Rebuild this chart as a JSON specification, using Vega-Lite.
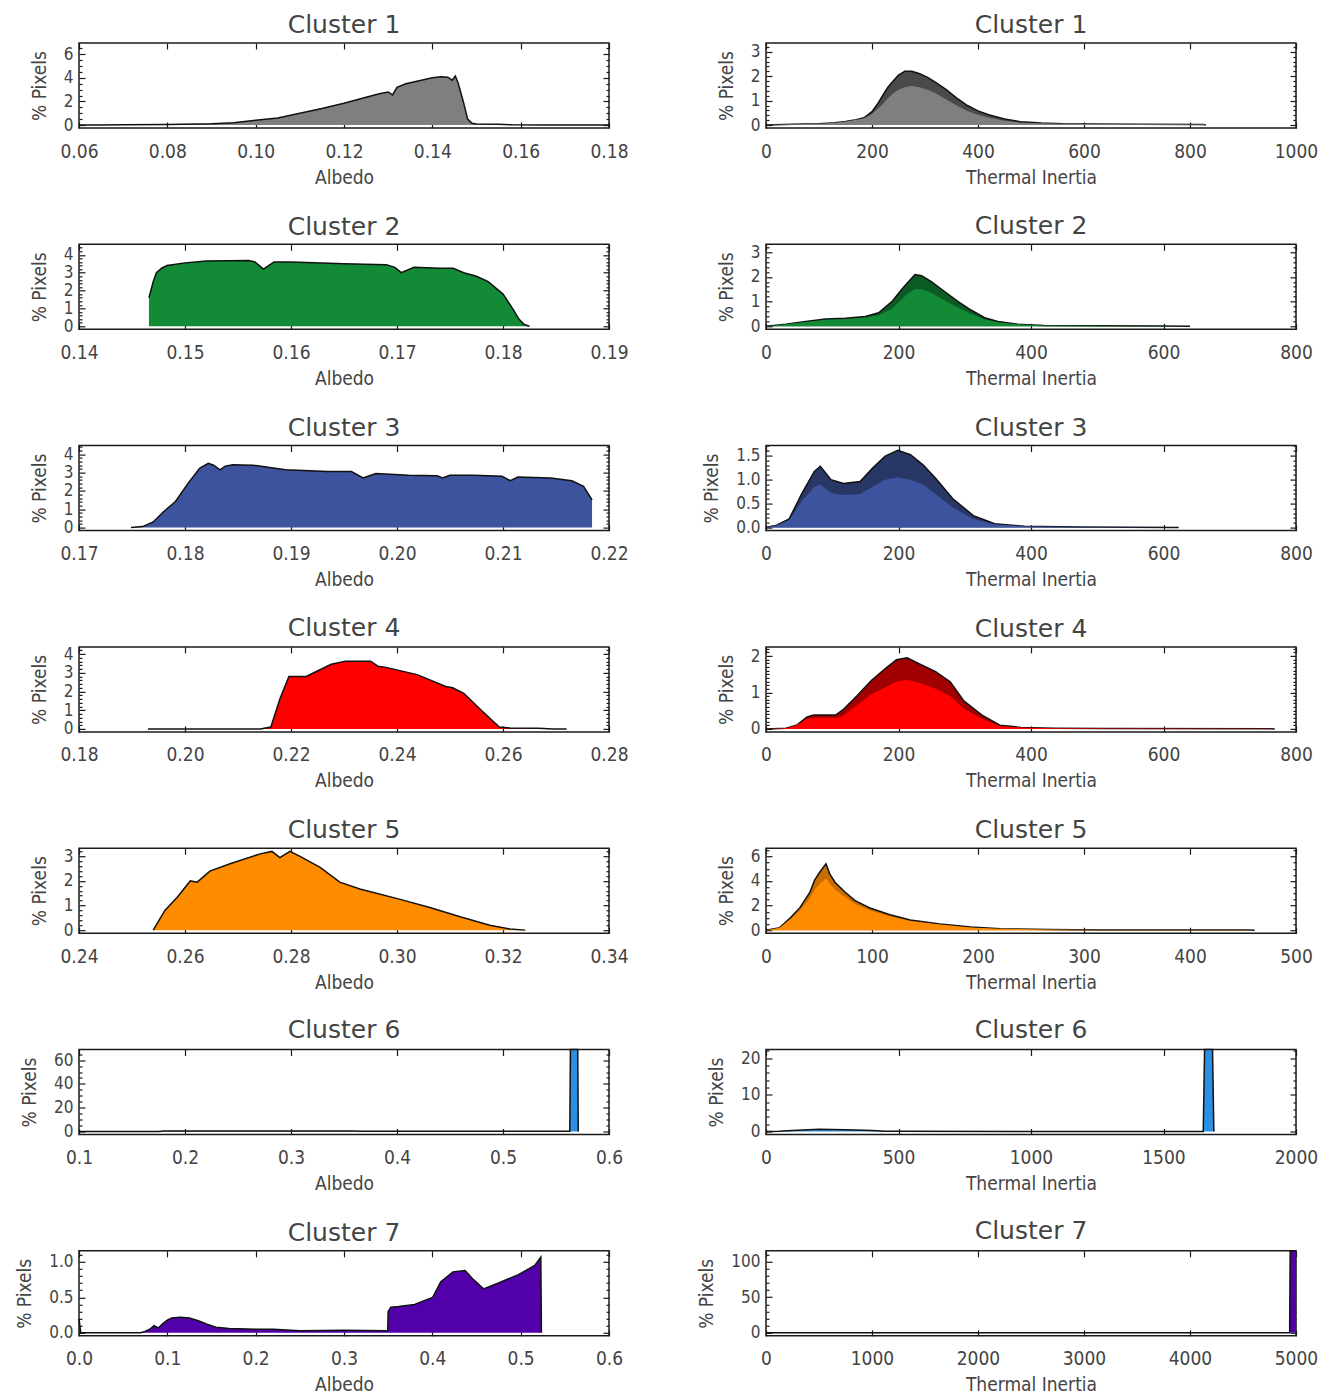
{
"$schema": "https://vega.github.io/schema/vega-lite/v6.json",
"background": "white",
"padding": {"left": 14, "top": 12, "right": 0, "bottom": 0},
"bounds": "flush",
"spacing": 201.3,
"config": {
  "view": {"stroke": "#1a1a1a", "strokeWidth": 1.5},
  "area": {"opacity": 1},
  "axis": {"domain": false, "grid": false, "tickSize": -6, "tickColor": "#1a1a1a", "tickWidth": 1.2, "labelFont": "DejaVu Sans Condensed", "labelFontSize": 19, "labelColor": "#444", "titleFont": "DejaVu Sans Condensed", "titleFontSize": 19, "titleColor": "#444", "titleFontWeight": "normal", "labelFlush": false, "labelOverlap": false},
  "axisX": {"labelPadding": 20, "titlePadding": 7},
  "axisY": {"labelPadding": 12, "titlePadding": 14, "labelFontSize": 17},
  "title": {"font": "DejaVu Sans", "fontSize": 25, "fontWeight": "normal", "color": "#444", "offset": 4}
},
"datasets": {
  "L1": [{"x":0.060,"y":0},{"x":0.065,"y":0},{"x":0.070,"y":0.02},{"x":0.080,"y":0.05},{"x":0.090,"y":0.1},{"x":0.095,"y":0.2},{"x":0.100,"y":0.4},{"x":0.105,"y":0.6},{"x":0.110,"y":1.0},{"x":0.115,"y":1.4},{"x":0.120,"y":1.85},{"x":0.125,"y":2.35},{"x":0.128,"y":2.65},{"x":0.130,"y":2.8},{"x":0.131,"y":2.55},{"x":0.132,"y":3.2},{"x":0.134,"y":3.5},{"x":0.137,"y":3.75},{"x":0.140,"y":4.0},{"x":0.142,"y":4.1},{"x":0.1435,"y":4.05},{"x":0.1445,"y":3.8},{"x":0.1452,"y":4.15},{"x":0.1458,"y":3.6},{"x":0.147,"y":2.0},{"x":0.148,"y":0.5},{"x":0.149,"y":0.15},{"x":0.150,"y":0.08},{"x":0.155,"y":0.06},{"x":0.158,"y":0.02},{"x":0.165,"y":0},{"x":0.180,"y":0}],
  "R1": [{"x":0,"u":0,"l":0},{"x":50,"u":0.03,"l":0.03},{"x":100,"u":0.05,"l":0.05},{"x":130,"u":0.1,"l":0.1},{"x":150,"u":0.15,"l":0.15},{"x":170,"u":0.22,"l":0.22},{"x":185,"u":0.3,"l":0.28},{"x":200,"u":0.55,"l":0.45},{"x":210,"u":0.85,"l":0.65},{"x":220,"u":1.2,"l":0.85},{"x":230,"u":1.55,"l":1.1},{"x":240,"u":1.8,"l":1.3},{"x":250,"u":2.05,"l":1.45},{"x":262,"u":2.2,"l":1.55},{"x":275,"u":2.2,"l":1.6},{"x":290,"u":2.1,"l":1.55},{"x":305,"u":1.95,"l":1.45},{"x":320,"u":1.75,"l":1.3},{"x":340,"u":1.45,"l":1.05},{"x":360,"u":1.1,"l":0.8},{"x":380,"u":0.8,"l":0.58},{"x":400,"u":0.58,"l":0.42},{"x":420,"u":0.42,"l":0.3},{"x":450,"u":0.25,"l":0.18},{"x":480,"u":0.14,"l":0.1},{"x":520,"u":0.08,"l":0.07},{"x":560,"u":0.05,"l":0.05},{"x":600,"u":0.04,"l":0.04},{"x":700,"u":0.03,"l":0.03},{"x":825,"u":0.02,"l":0.02},{"x":830,"u":0,"l":0}],
  "L2": [{"x":0.1466,"y":1.6},{"x":0.1470,"y":2.5},{"x":0.1473,"y":3.0},{"x":0.1478,"y":3.25},{"x":0.1483,"y":3.4},{"x":0.1500,"y":3.55},{"x":0.1520,"y":3.65},{"x":0.1560,"y":3.68},{"x":0.1566,"y":3.6},{"x":0.1574,"y":3.2},{"x":0.1584,"y":3.6},{"x":0.1600,"y":3.6},{"x":0.1650,"y":3.5},{"x":0.1690,"y":3.45},{"x":0.1698,"y":3.3},{"x":0.1704,"y":3.0},{"x":0.1716,"y":3.3},{"x":0.1740,"y":3.25},{"x":0.1753,"y":3.25},{"x":0.1763,"y":3.0},{"x":0.1775,"y":2.8},{"x":0.1786,"y":2.5},{"x":0.1800,"y":1.8},{"x":0.1810,"y":0.9},{"x":0.1815,"y":0.4},{"x":0.1820,"y":0.1},{"x":0.1825,"y":0}],
  "R2": [{"x":0,"u":0,"l":0},{"x":30,"u":0.08,"l":0.08},{"x":60,"u":0.2,"l":0.18},{"x":90,"u":0.3,"l":0.27},{"x":120,"u":0.33,"l":0.3},{"x":150,"u":0.4,"l":0.36},{"x":170,"u":0.55,"l":0.45},{"x":190,"u":1.0,"l":0.7},{"x":205,"u":1.5,"l":1.1},{"x":215,"u":1.8,"l":1.35},{"x":225,"u":2.1,"l":1.5},{"x":235,"u":2.05,"l":1.5},{"x":250,"u":1.8,"l":1.35},{"x":270,"u":1.4,"l":1.05},{"x":290,"u":1.0,"l":0.75},{"x":310,"u":0.65,"l":0.5},{"x":330,"u":0.35,"l":0.28},{"x":350,"u":0.2,"l":0.17},{"x":380,"u":0.08,"l":0.08},{"x":420,"u":0.03,"l":0.03},{"x":500,"u":0.02,"l":0.02},{"x":600,"u":0.01,"l":0.01},{"x":640,"u":0,"l":0}],
  "L3": [{"x":0.1749,"y":0},{"x":0.1760,"y":0.05},{"x":0.1770,"y":0.3},{"x":0.1780,"y":0.87},{"x":0.1791,"y":1.42},{"x":0.1803,"y":2.42},{"x":0.1814,"y":3.24},{"x":0.1822,"y":3.5},{"x":0.1827,"y":3.4},{"x":0.1833,"y":3.15},{"x":0.1838,"y":3.35},{"x":0.1845,"y":3.42},{"x":0.1864,"y":3.4},{"x":0.1895,"y":3.15},{"x":0.1934,"y":3.06},{"x":0.1957,"y":3.05},{"x":0.1968,"y":2.7},{"x":0.1980,"y":2.95},{"x":0.2011,"y":2.85},{"x":0.2038,"y":2.82},{"x":0.2043,"y":2.7},{"x":0.2050,"y":2.85},{"x":0.2072,"y":2.85},{"x":0.2099,"y":2.8},{"x":0.2107,"y":2.55},{"x":0.2114,"y":2.75},{"x":0.2145,"y":2.7},{"x":0.2165,"y":2.55},{"x":0.2176,"y":2.25},{"x":0.2184,"y":1.5}],
  "R3": [{"x":0,"u":0,"l":0},{"x":16,"u":0.05,"l":0.05},{"x":35,"u":0.18,"l":0.16},{"x":54,"u":0.71,"l":0.55},{"x":73,"u":1.17,"l":0.85},{"x":82,"u":1.28,"l":0.9},{"x":98,"u":1.0,"l":0.72},{"x":117,"u":0.92,"l":0.68},{"x":142,"u":0.96,"l":0.7},{"x":161,"u":1.24,"l":0.85},{"x":180,"u":1.49,"l":1.0},{"x":199,"u":1.61,"l":1.05},{"x":218,"u":1.52,"l":1.0},{"x":237,"u":1.31,"l":0.9},{"x":256,"u":1.03,"l":0.7},{"x":282,"u":0.6,"l":0.42},{"x":313,"u":0.25,"l":0.18},{"x":345,"u":0.08,"l":0.07},{"x":390,"u":0.03,"l":0.03},{"x":472,"u":0.01,"l":0.01},{"x":623,"u":0,"l":0}],
  "L4": [{"x":0.1930,"y":0},{"x":0.2142,"y":0},{"x":0.2162,"y":0.1},{"x":0.2179,"y":1.6},{"x":0.2196,"y":2.8},{"x":0.2229,"y":2.8},{"x":0.2243,"y":3.0},{"x":0.2276,"y":3.45},{"x":0.2303,"y":3.62},{"x":0.2350,"y":3.62},{"x":0.2364,"y":3.35},{"x":0.2377,"y":3.3},{"x":0.2438,"y":2.9},{"x":0.2492,"y":2.27},{"x":0.2505,"y":2.2},{"x":0.2526,"y":1.9},{"x":0.2559,"y":1.0},{"x":0.2593,"y":0.1},{"x":0.2613,"y":0.05},{"x":0.2667,"y":0.03},{"x":0.2694,"y":0},{"x":0.2720,"y":0}],
  "R4": [{"x":0,"u":0,"l":0},{"x":30,"u":0.02,"l":0.02},{"x":46,"u":0.1,"l":0.1},{"x":62,"u":0.33,"l":0.28},{"x":72,"u":0.38,"l":0.3},{"x":105,"u":0.38,"l":0.3},{"x":116,"u":0.52,"l":0.35},{"x":137,"u":0.9,"l":0.65},{"x":159,"u":1.33,"l":0.95},{"x":181,"u":1.67,"l":1.15},{"x":197,"u":1.9,"l":1.3},{"x":213,"u":1.95,"l":1.35},{"x":234,"u":1.76,"l":1.25},{"x":256,"u":1.57,"l":1.1},{"x":278,"u":1.29,"l":0.9},{"x":299,"u":0.76,"l":0.55},{"x":326,"u":0.38,"l":0.28},{"x":353,"u":0.1,"l":0.08},{"x":385,"u":0.04,"l":0.04},{"x":434,"u":0.02,"l":0.02},{"x":515,"u":0.01,"l":0.01},{"x":768,"u":0,"l":0}],
  "L5": [{"x":0.2540,"y":0},{"x":0.2562,"y":0.8},{"x":0.2585,"y":1.33},{"x":0.2610,"y":2.0},{"x":0.2623,"y":1.95},{"x":0.2647,"y":2.4},{"x":0.2685,"y":2.7},{"x":0.2742,"y":3.1},{"x":0.2764,"y":3.2},{"x":0.2779,"y":2.95},{"x":0.2798,"y":3.2},{"x":0.2817,"y":3.0},{"x":0.2855,"y":2.55},{"x":0.2892,"y":1.95},{"x":0.2930,"y":1.67},{"x":0.3006,"y":1.25},{"x":0.3062,"y":0.92},{"x":0.3119,"y":0.54},{"x":0.3175,"y":0.2},{"x":0.3213,"y":0.05},{"x":0.3242,"y":0}],
  "R5": [{"x":0,"u":0,"l":0},{"x":13,"u":0.2,"l":0.2},{"x":23,"u":1.0,"l":0.9},{"x":32,"u":1.83,"l":1.6},{"x":41.5,"u":3.1,"l":2.6},{"x":46,"u":4.1,"l":3.3},{"x":51,"u":4.75,"l":3.8},{"x":56.6,"u":5.4,"l":4.2},{"x":60,"u":4.6,"l":3.8},{"x":65,"u":3.9,"l":3.3},{"x":74.5,"u":3.1,"l":2.7},{"x":84,"u":2.4,"l":2.1},{"x":98,"u":1.8,"l":1.6},{"x":117,"u":1.25,"l":1.1},{"x":136,"u":0.83,"l":0.75},{"x":164,"u":0.5,"l":0.45},{"x":193,"u":0.25,"l":0.22},{"x":221,"u":0.12,"l":0.12},{"x":268,"u":0.05,"l":0.05},{"x":315,"u":0.02,"l":0.02},{"x":456,"u":0.01,"l":0.01},{"x":461,"u":0,"l":0}],
  "L6": [{"x":0.100,"y":0},{"x":0.175,"y":0},{"x":0.180,"y":0.5},{"x":0.360,"y":0.5},{"x":0.365,"y":0.2},{"x":0.5630,"y":0.2},{"x":0.5636,"y":68.9},{"x":0.5705,"y":68.9},{"x":0.5710,"y":0}],
  "R6": [{"x":0,"y":0},{"x":50,"y":0.1},{"x":100,"y":0.3},{"x":200,"y":0.6},{"x":300,"y":0.5},{"x":400,"y":0.3},{"x":450,"y":0.1},{"x":500,"y":0.05},{"x":1000,"y":0.02},{"x":1650,"y":0},{"x":1655,"y":22.4},{"x":1685,"y":22.4},{"x":1690,"y":0}],
  "L7": [{"x":0.000,"y":0.2},{"x":0.002,"y":0},{"x":0.070,"y":0},{"x":0.0746,"y":0.02},{"x":0.080,"y":0.05},{"x":0.085,"y":0.1},{"x":0.090,"y":0.07},{"x":0.095,"y":0.13},{"x":0.100,"y":0.18},{"x":0.105,"y":0.21},{"x":0.115,"y":0.22},{"x":0.125,"y":0.21},{"x":0.135,"y":0.17},{"x":0.145,"y":0.12},{"x":0.155,"y":0.08},{"x":0.170,"y":0.06},{"x":0.200,"y":0.05},{"x":0.220,"y":0.05},{"x":0.250,"y":0.03},{"x":0.300,"y":0.035},{"x":0.3495,"y":0.03},{"x":0.3500,"y":0.3},{"x":0.3530,"y":0.36},{"x":0.3620,"y":0.37},{"x":0.3800,"y":0.4},{"x":0.3900,"y":0.45},{"x":0.4004,"y":0.5},{"x":0.4096,"y":0.72},{"x":0.4234,"y":0.86},{"x":0.4370,"y":0.88},{"x":0.4466,"y":0.75},{"x":0.4580,"y":0.62},{"x":0.4743,"y":0.7},{"x":0.4974,"y":0.82},{"x":0.5160,"y":0.95},{"x":0.5228,"y":1.07},{"x":0.5235,"y":0}],
  "R7": [{"x":0,"y":0},{"x":4940,"y":0},{"x":4945,"y":115.3},{"x":5000,"y":115.3}]
},
"vconcat": [
 {"hconcat": [
  {"title": "Cluster 1", "width": 530, "height": 85, "data": {"name": "L1"},
   "layer": [
    {"mark": {"type": "area", "color": "#7f7f7f", "opacity": 1, "line": {"color": "#111", "strokeWidth": 1.5}},
     "encoding": {"x": {"field": "x", "type": "quantitative", "scale": {"domain": [0.06, 0.18], "nice": false, "zero": false}, "axis": {"title": "Albedo", "values": [0.06,0.08,0.10,0.12,0.14,0.16,0.18], "format": ".2f"}},
                  "y": {"field": "y", "type": "quantitative", "stack": null, "scale": {"domain": [-0.25, 6.95], "nice": false, "zero": false}, "axis": {"title": "% Pixels", "values": [0,2,4,6]}}}},
    {"mark": {"type": "line", "opacity": 0},
     "encoding": {"x": {"field": "x", "type": "quantitative", "axis": {"orient": "top", "labels": false, "title": null, "values": [0.06,0.08,0.10,0.12,0.14,0.16,0.18]}},
                  "y": {"field": "y", "type": "quantitative", "axis": {"orient": "right", "labels": false, "title": null, "values": [0,2,4,6]}}}},
    {"mark": {"type": "line", "opacity": 0},
     "encoding": {"x": {"field": "x", "type": "quantitative", "axis": null},
                  "y": {"field": "y", "type": "quantitative", "axis": {"orient": "left", "labels": false, "title": null, "tickSize": -3, "values": [0.5,1,1.5,2.5,3,3.5,4.5,5,5.5,6.5]}}}},
    {"mark": {"type": "line", "opacity": 0},
     "encoding": {"x": {"field": "x", "type": "quantitative", "axis": null},
                  "y": {"field": "y", "type": "quantitative", "axis": {"orient": "right", "labels": false, "title": null, "tickSize": -3, "values": [0.5,1,1.5,2.5,3,3.5,4.5,5,5.5,6.5]}}}}
   ],
   "resolve": {"axis": {"x": "independent", "y": "independent"}}},
  {"title": "Cluster 1", "width": 530, "height": 85, "data": {"name": "R1"},
   "layer": [
    {"mark": {"type": "area", "color": "#4a4a4a", "opacity": 1, "line": {"color": "#111", "strokeWidth": 1.5}},
     "encoding": {"x": {"field": "x", "type": "quantitative", "scale": {"domain": [0, 1000], "nice": false, "zero": false}, "axis": {"title": "Thermal Inertia", "values": [0,200,400,600,800,1000], "format": "d"}},
                  "y": {"field": "u", "type": "quantitative", "stack": null, "scale": {"domain": [-0.12, 3.36], "nice": false, "zero": false}, "axis": {"title": "% Pixels", "values": [0,1,2,3]}}}},
    {"mark": {"type": "area", "color": "#7f7f7f", "opacity": 1},
     "encoding": {"x": {"field": "x", "type": "quantitative", "axis": null}, "y": {"field": "l", "type": "quantitative", "stack": null, "axis": null}}},
    {"mark": {"type": "line", "opacity": 0},
     "encoding": {"x": {"field": "x", "type": "quantitative", "axis": {"orient": "top", "labels": false, "title": null, "values": [0,200,400,600,800,1000]}},
                  "y": {"field": "u", "type": "quantitative", "axis": {"orient": "right", "labels": false, "title": null, "values": [0,1,2,3]}}}},
    {"mark": {"type": "line", "opacity": 0},
     "encoding": {"x": {"field": "x", "type": "quantitative", "axis": null},
                  "y": {"field": "u", "type": "quantitative", "axis": {"orient": "left", "labels": false, "title": null, "tickSize": -3, "values": [0.2,0.4,0.6,0.8,1.2,1.4,1.6,1.8,2.2,2.4,2.6,2.8,3.2]}}}},
    {"mark": {"type": "line", "opacity": 0},
     "encoding": {"x": {"field": "x", "type": "quantitative", "axis": null},
                  "y": {"field": "u", "type": "quantitative", "axis": {"orient": "right", "labels": false, "title": null, "tickSize": -3, "values": [0.2,0.4,0.6,0.8,1.2,1.4,1.6,1.8,2.2,2.4,2.6,2.8,3.2]}}}}
   ],
   "resolve": {"axis": {"x": "independent", "y": "independent"}}}
 ], "spacing": 157, "bounds": "flush"},
 {"hconcat": [
  {"title": "Cluster 2", "width": 530, "height": 85, "data": {"name": "L2"},
   "layer": [
    {"mark": {"type": "area", "color": "#128a36", "opacity": 1, "line": {"color": "#111", "strokeWidth": 1.5}},
     "encoding": {"x": {"field": "x", "type": "quantitative", "scale": {"domain": [0.14, 0.19], "nice": false, "zero": false}, "axis": {"title": "Albedo", "values": [0.14,0.15,0.16,0.17,0.18,0.19], "format": ".2f"}},
                  "y": {"field": "y", "type": "quantitative", "stack": null, "scale": {"domain": [-0.17, 4.59], "nice": false, "zero": false}, "axis": {"title": "% Pixels", "values": [0,1,2,3,4]}}}},
    {"mark": {"type": "line", "opacity": 0},
     "encoding": {"x": {"field": "x", "type": "quantitative", "axis": {"orient": "top", "labels": false, "title": null, "values": [0.14,0.15,0.16,0.17,0.18,0.19]}},
                  "y": {"field": "y", "type": "quantitative", "axis": {"orient": "right", "labels": false, "title": null, "values": [0,1,2,3,4]}}}},
    {"mark": {"type": "line", "opacity": 0},
     "encoding": {"x": {"field": "x", "type": "quantitative", "axis": null},
                  "y": {"field": "y", "type": "quantitative", "axis": {"orient": "left", "labels": false, "title": null, "tickSize": -3, "values": [0.2,0.4,0.6,0.8,1.2,1.4,1.6,1.8,2.2,2.4,2.6,2.8,3.2,3.4,3.6,3.8,4.2,4.4]}}}},
    {"mark": {"type": "line", "opacity": 0},
     "encoding": {"x": {"field": "x", "type": "quantitative", "axis": null},
                  "y": {"field": "y", "type": "quantitative", "axis": {"orient": "right", "labels": false, "title": null, "tickSize": -3, "values": [0.2,0.4,0.6,0.8,1.2,1.4,1.6,1.8,2.2,2.4,2.6,2.8,3.2,3.4,3.6,3.8,4.2,4.4]}}}}
   ],
   "resolve": {"axis": {"x": "independent", "y": "independent"}}},
  {"title": "Cluster 2", "width": 530, "height": 85, "data": {"name": "R2"},
   "layer": [
    {"mark": {"type": "area", "color": "#0c5a24", "opacity": 1, "line": {"color": "#111", "strokeWidth": 1.5}},
     "encoding": {"x": {"field": "x", "type": "quantitative", "scale": {"domain": [0, 800], "nice": false, "zero": false}, "axis": {"title": "Thermal Inertia", "values": [0,200,400,600,800], "format": "d"}},
                  "y": {"field": "u", "type": "quantitative", "stack": null, "scale": {"domain": [-0.12, 3.32], "nice": false, "zero": false}, "axis": {"title": "% Pixels", "values": [0,1,2,3]}}}},
    {"mark": {"type": "area", "color": "#128a36", "opacity": 1},
     "encoding": {"x": {"field": "x", "type": "quantitative", "axis": null}, "y": {"field": "l", "type": "quantitative", "stack": null, "axis": null}}},
    {"mark": {"type": "line", "opacity": 0},
     "encoding": {"x": {"field": "x", "type": "quantitative", "axis": {"orient": "top", "labels": false, "title": null, "values": [0,200,400,600,800]}},
                  "y": {"field": "u", "type": "quantitative", "axis": {"orient": "right", "labels": false, "title": null, "values": [0,1,2,3]}}}},
    {"mark": {"type": "line", "opacity": 0},
     "encoding": {"x": {"field": "x", "type": "quantitative", "axis": null},
                  "y": {"field": "u", "type": "quantitative", "axis": {"orient": "left", "labels": false, "title": null, "tickSize": -3, "values": [0.2,0.4,0.6,0.8,1.2,1.4,1.6,1.8,2.2,2.4,2.6,2.8,3.2]}}}},
    {"mark": {"type": "line", "opacity": 0},
     "encoding": {"x": {"field": "x", "type": "quantitative", "axis": null},
                  "y": {"field": "u", "type": "quantitative", "axis": {"orient": "right", "labels": false, "title": null, "tickSize": -3, "values": [0.2,0.4,0.6,0.8,1.2,1.4,1.6,1.8,2.2,2.4,2.6,2.8,3.2]}}}}
   ],
   "resolve": {"axis": {"x": "independent", "y": "independent"}}}
 ], "spacing": 157, "bounds": "flush"},
 {"hconcat": [
  {"title": "Cluster 3", "width": 530, "height": 85, "data": {"name": "L3"},
   "layer": [
    {"mark": {"type": "area", "color": "#3d539d", "opacity": 1, "line": {"color": "#111", "strokeWidth": 1.5}},
     "encoding": {"x": {"field": "x", "type": "quantitative", "scale": {"domain": [0.17, 0.22], "nice": false, "zero": false}, "axis": {"title": "Albedo", "values": [0.17,0.18,0.19,0.20,0.21,0.22], "format": ".2f"}},
                  "y": {"field": "y", "type": "quantitative", "stack": null, "scale": {"domain": [-0.17, 4.47], "nice": false, "zero": false}, "axis": {"title": "% Pixels", "values": [0,1,2,3,4]}}}},
    {"mark": {"type": "line", "opacity": 0},
     "encoding": {"x": {"field": "x", "type": "quantitative", "axis": {"orient": "top", "labels": false, "title": null, "values": [0.17,0.18,0.19,0.20,0.21,0.22]}},
                  "y": {"field": "y", "type": "quantitative", "axis": {"orient": "right", "labels": false, "title": null, "values": [0,1,2,3,4]}}}},
    {"mark": {"type": "line", "opacity": 0},
     "encoding": {"x": {"field": "x", "type": "quantitative", "axis": null},
                  "y": {"field": "y", "type": "quantitative", "axis": {"orient": "left", "labels": false, "title": null, "tickSize": -3, "values": [0.2,0.4,0.6,0.8,1.2,1.4,1.6,1.8,2.2,2.4,2.6,2.8,3.2,3.4,3.6,3.8,4.2,4.4]}}}},
    {"mark": {"type": "line", "opacity": 0},
     "encoding": {"x": {"field": "x", "type": "quantitative", "axis": null},
                  "y": {"field": "y", "type": "quantitative", "axis": {"orient": "right", "labels": false, "title": null, "tickSize": -3, "values": [0.2,0.4,0.6,0.8,1.2,1.4,1.6,1.8,2.2,2.4,2.6,2.8,3.2,3.4,3.6,3.8,4.2,4.4]}}}}
   ],
   "resolve": {"axis": {"x": "independent", "y": "independent"}}},
  {"title": "Cluster 3", "width": 530, "height": 85, "data": {"name": "R3"},
   "layer": [
    {"mark": {"type": "area", "color": "#283766", "opacity": 1, "line": {"color": "#111", "strokeWidth": 1.5}},
     "encoding": {"x": {"field": "x", "type": "quantitative", "scale": {"domain": [0, 800], "nice": false, "zero": false}, "axis": {"title": "Thermal Inertia", "values": [0,200,400,600,800], "format": "d"}},
                  "y": {"field": "u", "type": "quantitative", "stack": null, "scale": {"domain": [-0.063, 1.71], "nice": false, "zero": false}, "axis": {"title": "% Pixels", "values": [0,0.5,1,1.5], "format": ".1f"}}}},
    {"mark": {"type": "area", "color": "#3d539d", "opacity": 1},
     "encoding": {"x": {"field": "x", "type": "quantitative", "axis": null}, "y": {"field": "l", "type": "quantitative", "stack": null, "axis": null}}},
    {"mark": {"type": "line", "opacity": 0},
     "encoding": {"x": {"field": "x", "type": "quantitative", "axis": {"orient": "top", "labels": false, "title": null, "values": [0,200,400,600,800]}},
                  "y": {"field": "u", "type": "quantitative", "axis": {"orient": "right", "labels": false, "title": null, "values": [0,0.5,1,1.5]}}}},
    {"mark": {"type": "line", "opacity": 0},
     "encoding": {"x": {"field": "x", "type": "quantitative", "axis": null},
                  "y": {"field": "u", "type": "quantitative", "axis": {"orient": "left", "labels": false, "title": null, "tickSize": -3, "values": [0.1,0.2,0.3,0.4,0.6,0.7,0.8,0.9,1.1,1.2,1.3,1.4,1.6,1.7]}}}},
    {"mark": {"type": "line", "opacity": 0},
     "encoding": {"x": {"field": "x", "type": "quantitative", "axis": null},
                  "y": {"field": "u", "type": "quantitative", "axis": {"orient": "right", "labels": false, "title": null, "tickSize": -3, "values": [0.1,0.2,0.3,0.4,0.6,0.7,0.8,0.9,1.1,1.2,1.3,1.4,1.6,1.7]}}}}
   ],
   "resolve": {"axis": {"x": "independent", "y": "independent"}}}
 ], "spacing": 157, "bounds": "flush"},
 {"hconcat": [
  {"title": "Cluster 4", "width": 530, "height": 85, "data": {"name": "L4"},
   "layer": [
    {"mark": {"type": "area", "color": "#ff0000", "opacity": 1, "line": {"color": "#111", "strokeWidth": 1.5}},
     "encoding": {"x": {"field": "x", "type": "quantitative", "scale": {"domain": [0.18, 0.28], "nice": false, "zero": false}, "axis": {"title": "Albedo", "values": [0.18,0.20,0.22,0.24,0.26,0.28], "format": ".2f"}},
                  "y": {"field": "y", "type": "quantitative", "stack": null, "scale": {"domain": [-0.16, 4.38], "nice": false, "zero": false}, "axis": {"title": "% Pixels", "values": [0,1,2,3,4]}}}},
    {"mark": {"type": "line", "opacity": 0},
     "encoding": {"x": {"field": "x", "type": "quantitative", "axis": {"orient": "top", "labels": false, "title": null, "values": [0.18,0.20,0.22,0.24,0.26,0.28]}},
                  "y": {"field": "y", "type": "quantitative", "axis": {"orient": "right", "labels": false, "title": null, "values": [0,1,2,3,4]}}}},
    {"mark": {"type": "line", "opacity": 0},
     "encoding": {"x": {"field": "x", "type": "quantitative", "axis": null},
                  "y": {"field": "y", "type": "quantitative", "axis": {"orient": "left", "labels": false, "title": null, "tickSize": -3, "values": [0.2,0.4,0.6,0.8,1.2,1.4,1.6,1.8,2.2,2.4,2.6,2.8,3.2,3.4,3.6,3.8,4.2]}}}},
    {"mark": {"type": "line", "opacity": 0},
     "encoding": {"x": {"field": "x", "type": "quantitative", "axis": null},
                  "y": {"field": "y", "type": "quantitative", "axis": {"orient": "right", "labels": false, "title": null, "tickSize": -3, "values": [0.2,0.4,0.6,0.8,1.2,1.4,1.6,1.8,2.2,2.4,2.6,2.8,3.2,3.4,3.6,3.8,4.2]}}}}
   ],
   "resolve": {"axis": {"x": "independent", "y": "independent"}}},
  {"title": "Cluster 4", "width": 530, "height": 85, "data": {"name": "R4"},
   "layer": [
    {"mark": {"type": "area", "color": "#a00000", "opacity": 1, "line": {"color": "#111", "strokeWidth": 1.5}},
     "encoding": {"x": {"field": "x", "type": "quantitative", "scale": {"domain": [0, 800], "nice": false, "zero": false}, "axis": {"title": "Thermal Inertia", "values": [0,200,400,600,800], "format": "d"}},
                  "y": {"field": "u", "type": "quantitative", "stack": null, "scale": {"domain": [-0.083, 2.25], "nice": false, "zero": false}, "axis": {"title": "% Pixels", "values": [0,1,2]}}}},
    {"mark": {"type": "area", "color": "#ff0000", "opacity": 1},
     "encoding": {"x": {"field": "x", "type": "quantitative", "axis": null}, "y": {"field": "l", "type": "quantitative", "stack": null, "axis": null}}},
    {"mark": {"type": "line", "opacity": 0},
     "encoding": {"x": {"field": "x", "type": "quantitative", "axis": {"orient": "top", "labels": false, "title": null, "values": [0,200,400,600,800]}},
                  "y": {"field": "u", "type": "quantitative", "axis": {"orient": "right", "labels": false, "title": null, "values": [0,1,2]}}}},
    {"mark": {"type": "line", "opacity": 0},
     "encoding": {"x": {"field": "x", "type": "quantitative", "axis": null},
                  "y": {"field": "u", "type": "quantitative", "axis": {"orient": "left", "labels": false, "title": null, "tickSize": -3, "values": [0.1,0.2,0.3,0.4,0.5,0.6,0.7,0.8,0.9,1.1,1.2,1.3,1.4,1.5,1.6,1.7,1.8,1.9,2.1,2.2]}}}},
    {"mark": {"type": "line", "opacity": 0},
     "encoding": {"x": {"field": "x", "type": "quantitative", "axis": null},
                  "y": {"field": "u", "type": "quantitative", "axis": {"orient": "right", "labels": false, "title": null, "tickSize": -3, "values": [0.1,0.2,0.3,0.4,0.5,0.6,0.7,0.8,0.9,1.1,1.2,1.3,1.4,1.5,1.6,1.7,1.8,1.9,2.1,2.2]}}}}
   ],
   "resolve": {"axis": {"x": "independent", "y": "independent"}}}
 ], "spacing": 157, "bounds": "flush"},
 {"hconcat": [
  {"title": "Cluster 5", "width": 530, "height": 85, "data": {"name": "L5"},
   "layer": [
    {"mark": {"type": "area", "color": "#ff8c00", "opacity": 1, "line": {"color": "#111", "strokeWidth": 1.5}},
     "encoding": {"x": {"field": "x", "type": "quantitative", "scale": {"domain": [0.24, 0.34], "nice": false, "zero": false}, "axis": {"title": "Albedo", "values": [0.24,0.26,0.28,0.30,0.32,0.34], "format": ".2f"}},
                  "y": {"field": "y", "type": "quantitative", "stack": null, "scale": {"domain": [-0.125, 3.33], "nice": false, "zero": false}, "axis": {"title": "% Pixels", "values": [0,1,2,3]}}}},
    {"mark": {"type": "line", "opacity": 0},
     "encoding": {"x": {"field": "x", "type": "quantitative", "axis": {"orient": "top", "labels": false, "title": null, "values": [0.24,0.26,0.28,0.30,0.32,0.34]}},
                  "y": {"field": "y", "type": "quantitative", "axis": {"orient": "right", "labels": false, "title": null, "values": [0,1,2,3]}}}},
    {"mark": {"type": "line", "opacity": 0},
     "encoding": {"x": {"field": "x", "type": "quantitative", "axis": null},
                  "y": {"field": "y", "type": "quantitative", "axis": {"orient": "left", "labels": false, "title": null, "tickSize": -3, "values": [0.2,0.4,0.6,0.8,1.2,1.4,1.6,1.8,2.2,2.4,2.6,2.8,3.2]}}}},
    {"mark": {"type": "line", "opacity": 0},
     "encoding": {"x": {"field": "x", "type": "quantitative", "axis": null},
                  "y": {"field": "y", "type": "quantitative", "axis": {"orient": "right", "labels": false, "title": null, "tickSize": -3, "values": [0.2,0.4,0.6,0.8,1.2,1.4,1.6,1.8,2.2,2.4,2.6,2.8,3.2]}}}}
   ],
   "resolve": {"axis": {"x": "independent", "y": "independent"}}},
  {"title": "Cluster 5", "width": 530, "height": 85, "data": {"name": "R5"},
   "layer": [
    {"mark": {"type": "area", "color": "#c86e00", "opacity": 1, "line": {"color": "#111", "strokeWidth": 1.5}},
     "encoding": {"x": {"field": "x", "type": "quantitative", "scale": {"domain": [0, 500], "nice": false, "zero": false}, "axis": {"title": "Thermal Inertia", "values": [0,100,200,300,400,500], "format": "d"}},
                  "y": {"field": "u", "type": "quantitative", "stack": null, "scale": {"domain": [-0.25, 6.67], "nice": false, "zero": false}, "axis": {"title": "% Pixels", "values": [0,2,4,6]}}}},
    {"mark": {"type": "area", "color": "#ff8c00", "opacity": 1},
     "encoding": {"x": {"field": "x", "type": "quantitative", "axis": null}, "y": {"field": "l", "type": "quantitative", "stack": null, "axis": null}}},
    {"mark": {"type": "line", "opacity": 0},
     "encoding": {"x": {"field": "x", "type": "quantitative", "axis": {"orient": "top", "labels": false, "title": null, "values": [0,100,200,300,400,500]}},
                  "y": {"field": "u", "type": "quantitative", "axis": {"orient": "right", "labels": false, "title": null, "values": [0,2,4,6]}}}},
    {"mark": {"type": "line", "opacity": 0},
     "encoding": {"x": {"field": "x", "type": "quantitative", "axis": null},
                  "y": {"field": "u", "type": "quantitative", "axis": {"orient": "left", "labels": false, "title": null, "tickSize": -3, "values": [0.5,1,1.5,2.5,3,3.5,4.5,5,5.5,6.5]}}}},
    {"mark": {"type": "line", "opacity": 0},
     "encoding": {"x": {"field": "x", "type": "quantitative", "axis": null},
                  "y": {"field": "u", "type": "quantitative", "axis": {"orient": "right", "labels": false, "title": null, "tickSize": -3, "values": [0.5,1,1.5,2.5,3,3.5,4.5,5,5.5,6.5]}}}}
   ],
   "resolve": {"axis": {"x": "independent", "y": "independent"}}}
 ], "spacing": 157, "bounds": "flush"},
 {"hconcat": [
  {"title": "Cluster 6", "width": 530, "height": 85, "data": {"name": "L6"},
   "layer": [
    {"mark": {"type": "area", "color": "#2b8fe3", "opacity": 1, "line": {"color": "#111", "strokeWidth": 1.5}},
     "encoding": {"x": {"field": "x", "type": "quantitative", "scale": {"domain": [0.1, 0.6], "nice": false, "zero": false}, "axis": {"title": "Albedo", "values": [0.1,0.2,0.3,0.4,0.5,0.6], "format": ".1f"}},
                  "y": {"field": "y", "type": "quantitative", "stack": null, "scale": {"domain": [-2.5, 68.9], "nice": false, "zero": false}, "axis": {"title": "% Pixels", "values": [0,20,40,60]}}}},
    {"mark": {"type": "line", "opacity": 0},
     "encoding": {"x": {"field": "x", "type": "quantitative", "axis": {"orient": "top", "labels": false, "title": null, "values": [0.1,0.2,0.3,0.4,0.5,0.6]}},
                  "y": {"field": "y", "type": "quantitative", "axis": {"orient": "right", "labels": false, "title": null, "values": [0,20,40,60]}}}},
    {"mark": {"type": "line", "opacity": 0},
     "encoding": {"x": {"field": "x", "type": "quantitative", "axis": null},
                  "y": {"field": "y", "type": "quantitative", "axis": {"orient": "left", "labels": false, "title": null, "tickSize": -3, "values": [5,10,15,25,30,35,45,50,55,65]}}}},
    {"mark": {"type": "line", "opacity": 0},
     "encoding": {"x": {"field": "x", "type": "quantitative", "axis": null},
                  "y": {"field": "y", "type": "quantitative", "axis": {"orient": "right", "labels": false, "title": null, "tickSize": -3, "values": [5,10,15,25,30,35,45,50,55,65]}}}}
   ],
   "resolve": {"axis": {"x": "independent", "y": "independent"}}},
  {"title": "Cluster 6", "width": 530, "height": 85, "data": {"name": "R6"},
   "layer": [
    {"mark": {"type": "area", "color": "#2b8fe3", "opacity": 1, "line": {"color": "#111", "strokeWidth": 1.5}},
     "encoding": {"x": {"field": "x", "type": "quantitative", "scale": {"domain": [0, 2000], "nice": false, "zero": false}, "axis": {"title": "Thermal Inertia", "values": [0,500,1000,1500,2000], "format": "d"}},
                  "y": {"field": "y", "type": "quantitative", "stack": null, "scale": {"domain": [-0.82, 22.4], "nice": false, "zero": false}, "axis": {"title": "% Pixels", "values": [0,10,20]}}}},
    {"mark": {"type": "line", "opacity": 0},
     "encoding": {"x": {"field": "x", "type": "quantitative", "axis": {"orient": "top", "labels": false, "title": null, "values": [0,500,1000,1500,2000]}},
                  "y": {"field": "y", "type": "quantitative", "axis": {"orient": "right", "labels": false, "title": null, "values": [0,10,20]}}}},
    {"mark": {"type": "line", "opacity": 0},
     "encoding": {"x": {"field": "x", "type": "quantitative", "axis": null},
                  "y": {"field": "y", "type": "quantitative", "axis": {"orient": "left", "labels": false, "title": null, "tickSize": -3, "values": [2,4,6,8,12,14,16,18,22]}}}},
    {"mark": {"type": "line", "opacity": 0},
     "encoding": {"x": {"field": "x", "type": "quantitative", "axis": null},
                  "y": {"field": "y", "type": "quantitative", "axis": {"orient": "right", "labels": false, "title": null, "tickSize": -3, "values": [2,4,6,8,12,14,16,18,22]}}}}
   ],
   "resolve": {"axis": {"x": "independent", "y": "independent"}}}
 ], "spacing": 157, "bounds": "flush"},
 {"hconcat": [
  {"title": "Cluster 7", "width": 530, "height": 85, "data": {"name": "L7"},
   "layer": [
    {"mark": {"type": "area", "color": "#5200aa", "opacity": 1, "line": {"color": "#111", "strokeWidth": 1.5}},
     "encoding": {"x": {"field": "x", "type": "quantitative", "scale": {"domain": [0, 0.6], "nice": false, "zero": false}, "axis": {"title": "Albedo", "values": [0,0.1,0.2,0.3,0.4,0.5,0.6], "format": ".1f"}},
                  "y": {"field": "y", "type": "quantitative", "stack": null, "scale": {"domain": [-0.042, 1.157], "nice": false, "zero": false}, "axis": {"title": "% Pixels", "values": [0,0.5,1], "format": ".1f"}}}},
    {"mark": {"type": "line", "opacity": 0},
     "encoding": {"x": {"field": "x", "type": "quantitative", "axis": {"orient": "top", "labels": false, "title": null, "values": [0,0.1,0.2,0.3,0.4,0.5,0.6]}},
                  "y": {"field": "y", "type": "quantitative", "axis": {"orient": "right", "labels": false, "title": null, "values": [0,0.5,1]}}}},
    {"mark": {"type": "line", "opacity": 0},
     "encoding": {"x": {"field": "x", "type": "quantitative", "axis": null},
                  "y": {"field": "y", "type": "quantitative", "axis": {"orient": "left", "labels": false, "title": null, "tickSize": -3, "values": [0.1,0.2,0.3,0.4,0.6,0.7,0.8,0.9,1.1]}}}},
    {"mark": {"type": "line", "opacity": 0},
     "encoding": {"x": {"field": "x", "type": "quantitative", "axis": null},
                  "y": {"field": "y", "type": "quantitative", "axis": {"orient": "right", "labels": false, "title": null, "tickSize": -3, "values": [0.1,0.2,0.3,0.4,0.6,0.7,0.8,0.9,1.1]}}}}
   ],
   "resolve": {"axis": {"x": "independent", "y": "independent"}}},
  {"title": "Cluster 7", "width": 530, "height": 85, "data": {"name": "R7"},
   "layer": [
    {"mark": {"type": "area", "color": "#5200aa", "opacity": 1, "line": {"color": "#111", "strokeWidth": 1.5}},
     "encoding": {"x": {"field": "x", "type": "quantitative", "scale": {"domain": [0, 5000], "nice": false, "zero": false}, "axis": {"title": "Thermal Inertia", "values": [0,1000,2000,3000,4000,5000], "format": "d"}},
                  "y": {"field": "y", "type": "quantitative", "stack": null, "scale": {"domain": [-4.2, 115.3], "nice": false, "zero": false}, "axis": {"title": "% Pixels", "values": [0,50,100]}}}},
    {"mark": {"type": "line", "opacity": 0},
     "encoding": {"x": {"field": "x", "type": "quantitative", "axis": {"orient": "top", "labels": false, "title": null, "values": [0,1000,2000,3000,4000,5000]}},
                  "y": {"field": "y", "type": "quantitative", "axis": {"orient": "right", "labels": false, "title": null, "values": [0,50,100]}}}},
    {"mark": {"type": "line", "opacity": 0},
     "encoding": {"x": {"field": "x", "type": "quantitative", "axis": null},
                  "y": {"field": "y", "type": "quantitative", "axis": {"orient": "left", "labels": false, "title": null, "tickSize": -3, "values": [10,20,30,40,60,70,80,90,110]}}}},
    {"mark": {"type": "line", "opacity": 0},
     "encoding": {"x": {"field": "x", "type": "quantitative", "axis": null},
                  "y": {"field": "y", "type": "quantitative", "axis": {"orient": "right", "labels": false, "title": null, "tickSize": -3, "values": [10,20,30,40,60,70,80,90,110]}}}}
   ],
   "resolve": {"axis": {"x": "independent", "y": "independent"}}}
 ], "spacing": 157, "bounds": "flush"}
]
}
